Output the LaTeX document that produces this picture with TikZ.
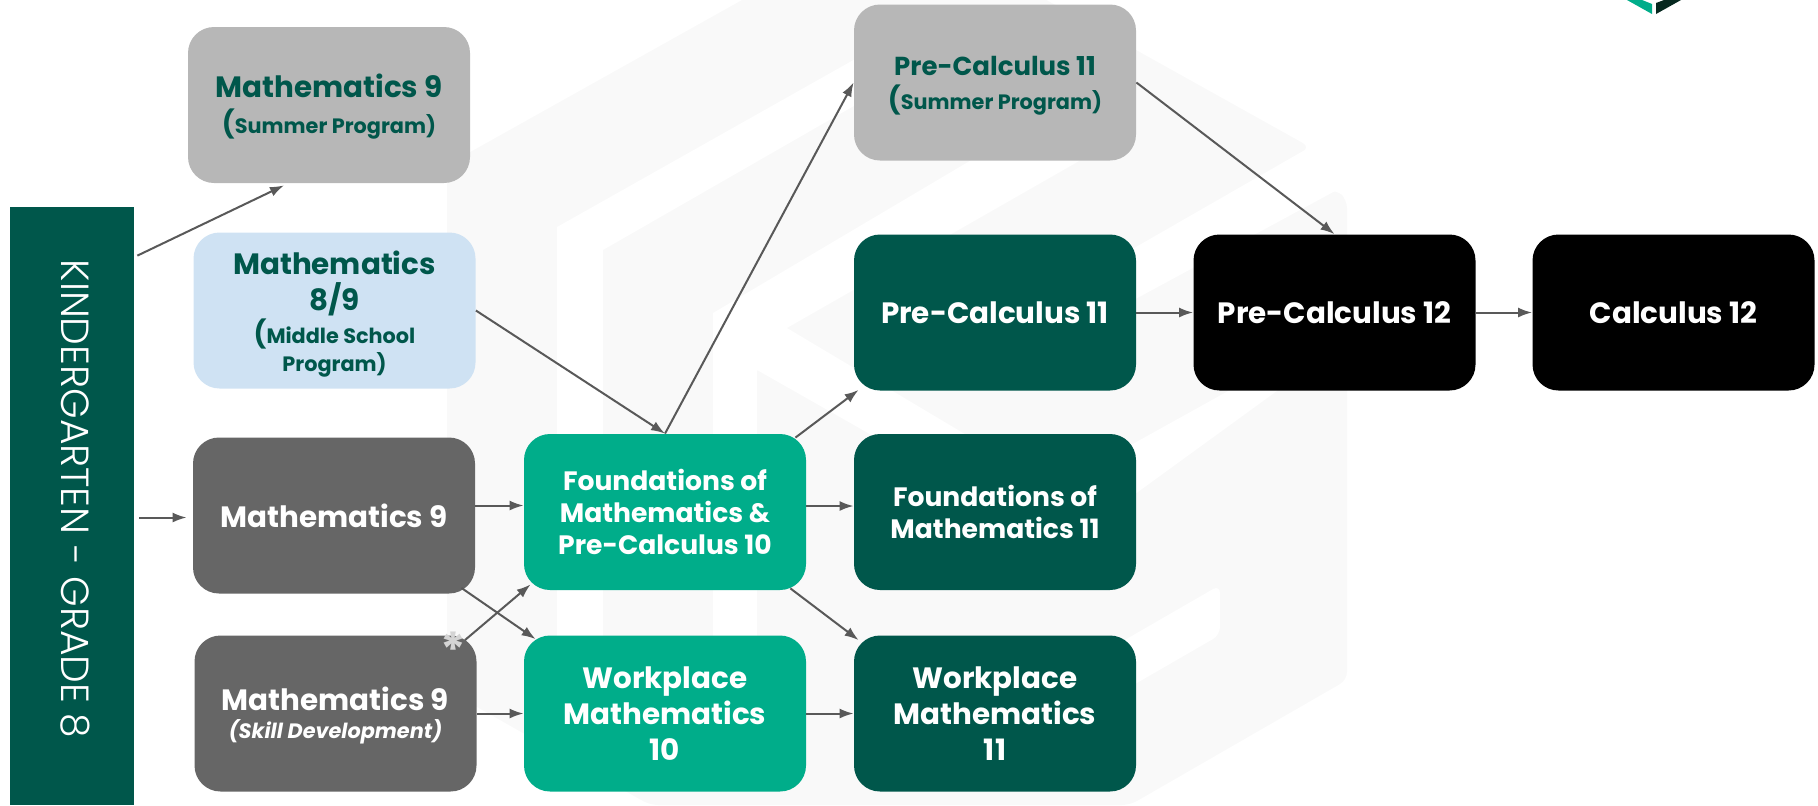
\documentclass[tikz,border=0pt]{standalone}
\usepackage{fontspec}
\setmainfont{Poppins}[BoldFont=Poppins Bold,BoldItalicFont=Poppins Bold Italic]
\newfontfamily\sidefont{Poppins Light}
\usetikzlibrary{arrows.meta, calc}
\definecolor{darkgreen}{HTML}{00574B}
\definecolor{tealgreen}{HTML}{00AD8A}
\definecolor{slategrey}{HTML}{666666}
\definecolor{palegrey}{HTML}{B7B7B7}
\definecolor{paleblue}{HTML}{CFE2F3}
\definecolor{linkgrey}{HTML}{595959}
\definecolor{markgrey}{HTML}{F9F9F9}
\definecolor{stargrey}{HTML}{D4D4D4}
\definecolor{logodark}{HTML}{06281F}
\newcommand{\subline}[1]{{\fontsize{10.4}{13}\selectfont #1}}
\newcommand{\bigparen}{{\fontsize{13.5}{13}\selectfont(}}
\newcommand{\lift}[1]{\rule{0pt}{#1}}

\begin{document}
\begin{tikzpicture}[x=0.5pt, y=-0.5pt,
    course/.style={rectangle, rounded corners=13pt, minimum width=141pt, minimum height=78pt,
      inner sep=0pt, align=center, text=white, font=\fontsize{13.3}{16}\selectfont\bfseries},
    large/.style={font=\fontsize{14.7}{18}\selectfont\bfseries},
    summer/.style={course, fill=palegrey, text=darkgreen},
    middle/.style={course, fill=paleblue, text=darkgreen},
    general/.style={course, fill=slategrey},
    ten/.style={course, fill=tealgreen},
    eleven/.style={course, fill=darkgreen},
    twelve/.style={course, fill=black},
    link/.style={-{Latex[length=7pt, width=5pt]}, linkgrey, line width=1pt}]
    \useasboundingbox (0,0) rectangle (1818,805);

    \fill[markgrey, rounded corners=4pt] (447,690) -- (447,165) -- (894,-85) -- (1310,147) -- (1230,200)
      -- (1337,190) -- (1347,200) -- (1347,680) -- (1130,805) -- (650,805) -- cycle;
    \fill[white] (557,760) -- (557,227) -- (880,45) -- (920,68) -- (603,250) -- (603,760) -- cycle;
    \fill[white] (713,760) -- (713,313) -- (1130,66) -- (1130,132) -- (787,328) -- (1000,455)
      -- (1000,508) -- (757,370) -- (757,760) -- cycle;
    \fill[white] (1310,147) -- (1337,190) -- (1130,302) -- (1000,370) -- (1000,325) -- cycle;
    \fill[white] (1120,451) -- (1347,325) -- (1347,340) -- (1120,505) -- cycle;
    \fill[white, rounded corners=4pt] (1000,712) -- (1220,585) -- (1220,635) -- (1000,762) -- cycle;
    \fill[tealgreen] (1627,0) -- (1642,0) -- (1652,4) -- (1652,14) -- cycle;
    \fill[logodark] (1656,14) -- (1656,3) -- (1664,0) -- (1681,0) -- cycle;

    \node[fill=darkgreen, minimum width=62pt, minimum height=299pt, inner sep=0pt] (grades) at (72,506) {};
    \node[rotate=-90, text=white, font=\fontsize{19.6}{22}\selectfont\sidefont] (gradelabel) at (75,499) {KINDERGARTEN - GRADE 8};

    \node[summer, large] (summernine) at (329,105) {\lift{13pt}Mathematics 9\\ \subline{\bigparen Summer Program)}};
    \node[middle, large] (middlenine) at (334.5,310.5) {\lift{15.5pt}Mathematics\\ 8/9\\[-1.8pt] \subline{\bigparen Middle School}\\[-4pt] \subline{Program)}};
    \node[general, large] (mathnine) at (334,515.5) {Mathematics 9};
    \node[general, font=\fontsize{14.7}{17}\selectfont\bfseries] (skillnine) at (335.5,713.5) {\lift{14pt}Mathematics 9\\[-3pt] \subline{\itshape (Skill Development)}};
    \node[ten] (foundten) at (665,512) {Foundations of\\ Mathematics \&\\ Pre-Calculus 10};
    \node[ten, large] (workten) at (665,713.5) {Workplace\\ Mathematics\\ 10};
    \node[summer, font=\fontsize{13}{17}\selectfont\bfseries] (summereleven) at (995,82.5) {\lift{13pt}Pre-Calculus 11\\ \subline{\bigparen Summer Program)}};
    \node[eleven, large] (calceleven) at (995,312.5) {Pre-Calculus 11};
    \node[eleven] (foundeleven) at (995,512) {Foundations of\\ Mathematics 11};
    \node[eleven, large] (workeleven) at (995,713.5) {Workplace\\ Mathematics\\ 11};
    \node[twelve, large] (calctwelve) at (1334.5,312.5) {Pre-Calculus 12};
    \node[twelve, large] (calculus) at (1673.5,312.5) {Calculus 12};
    \node[text=stargrey, inner sep=0pt, font=\fontsize{24}{24}\selectfont\bfseries] (star) at (453,650) {*};

    \draw[link] ($(grades.north east)+(3,49)$) -- ($(summernine.south)+(-45,2)$);
    \draw[link] ($(grades.east |- mathnine.west)+(5,2)$) -- ($(mathnine.west)+(-6,2)$);
    \draw[link] (middlenine.east) -- (foundten.north);
    \draw[link] (foundten.north) -- (summereleven.west);
    \draw[link] (summereleven.east) -- (calctwelve.north);
    \draw[link] (calceleven) -- (calctwelve);
    \draw[link] (calctwelve) -- (calculus);
    \draw[link] ($(foundten.north east)+(-11,4)$) -- ($(calceleven.south west)+(5,-1)$);
    \draw[link] ($(foundten.east)+(0,-6)$) -- ($(foundeleven.west)+(0,-6)$);
    \draw[link] ($(foundten.south east)+(-16,-2)$) -- ($(workeleven.north west)+(5,5)$);
    \draw[link] ($(mathnine.east)+(0,-10)$) -- ($(foundten.west)+(0,-6.5)$);
    \draw[link] ($(mathnine.south east)+(-14,-6)$) -- ($(workten.north west)+(12,4)$);
    \draw[link] ($(skillnine.north east)+(-12,5)$) -- ($(foundten.south west)+(7,-6)$);
    \draw[link] (skillnine) -- (workten);
    \draw[link] (workten) -- (workeleven);
\end{tikzpicture}
\end{document}
